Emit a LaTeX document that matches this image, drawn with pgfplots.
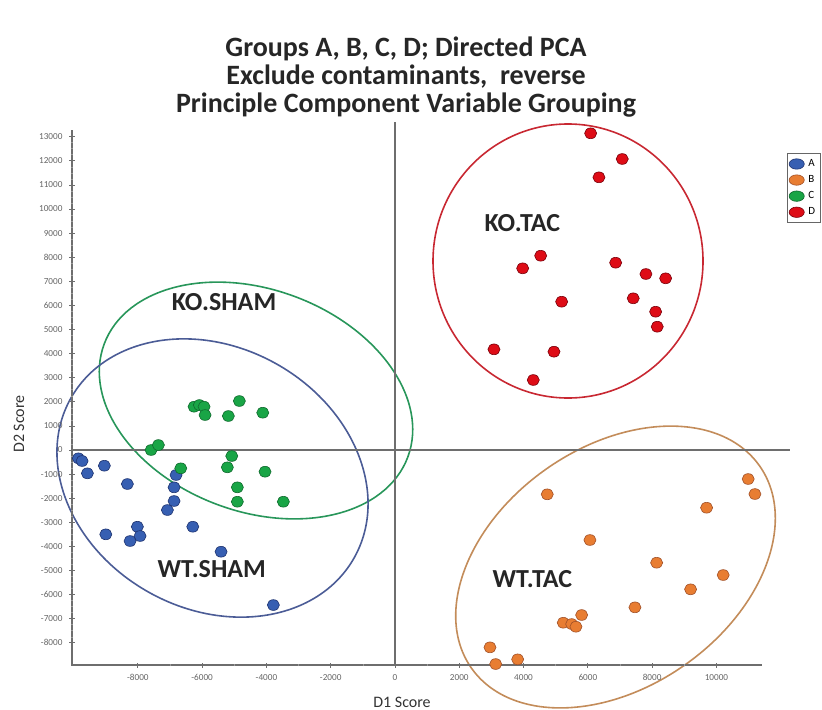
\documentclass[border=0pt]{standalone}
\usepackage{pgfplots}
\pgfplotsset{compat=1.18}
\usepackage{fontspec}
\setmainfont{Carlito}
\definecolor{blueM}{RGB}{55,95,178}
\definecolor{blueD}{RGB}{30,50,110}
\definecolor{orangeM}{RGB}{232,125,50}
\definecolor{orangeD}{RGB}{160,80,40}
\definecolor{greenM}{RGB}{25,165,70}
\definecolor{greenD}{RGB}{15,105,45}
\definecolor{redM}{RGB}{222,12,22}
\definecolor{redD}{RGB}{120,0,10}
\definecolor{redE}{RGB}{200,40,50}
\definecolor{greenE}{RGB}{40,150,90}
\definecolor{blueE}{RGB}{75,92,150}
\definecolor{orangeE}{RGB}{195,140,90}
\definecolor{axgray}{RGB}{110,110,110}
\begin{document}
\begin{tikzpicture}
% cluster ellipses (pt units, 0.5pt per reference pixel)
\draw[redE, line width=0.8pt] (248pt,202pt) ellipse [x radius=67.5pt, y radius=68.5pt];
\draw[greenE, line width=0.8pt, rotate around={-20.4:(92pt,132.25pt)}] (92pt,132.25pt) ellipse [x radius=81pt, y radius=55.5pt];
\draw[blueE, line width=0.8pt, rotate around={-29.4:(70.25pt,93.5pt)}] (70.25pt,93.5pt) ellipse [x radius=81.3pt, y radius=65.4pt];
\draw[orangeE, line width=0.8pt, rotate around={35:(271.75pt,49pt)}] (271.75pt,49pt) ellipse [x radius=88pt, y radius=60pt];
% axis lines
\draw[axgray, line width=0.6pt] (0pt,267.5pt) -- (0pt,0pt) -- (345pt,0pt);
\begin{axis}[
  width=359pt, height=271.5pt, scale only axis,
  xmin=-10050, xmax=12290, ymin=-8920, ymax=13610,
  axis x line*=bottom, axis y line*=left,
  axis line style={draw=none},
  clip=false,
  xtick={-8000,-6000,...,10000},
  ytick={-8000,-7000,...,13000},
  minor x tick num=1, minor y tick num=3,
  tick align=center,
  major tick length=2.5pt, minor tick length=1.2pt,
  tick style={axgray, line width=0.4pt},
  minor tick style={axgray!70, line width=0.3pt},
  tick label style={font=\fontsize{4.6}{5}\selectfont, text=black!60},
  scaled ticks=false,
  /pgf/number format/set thousands separator={},
  /pgf/number format/assume math mode=true,
  legend style={at={(0.996,0.943)}, anchor=north west, draw=black!60,
    font=\fontsize{5.5}{6}\selectfont, inner sep=0.8pt, row sep=-1.0pt,
    cells={anchor=west}},
  legend image post style={mark size=2.6pt, /tikz/every mark/.append style={xscale=1.3}},
]
\draw[axgray, line width=0.75pt] (axis cs:0,-8920) -- (axis cs:0,13610);
\draw[axgray, line width=0.75pt] (axis cs:-10050,0) -- (axis cs:12290,0);
\addplot[only marks, mark=*, mark size=2.7pt, mark options={fill=blueM, draw=blueD, line width=0.3pt, xscale=1.12}] coordinates {
(-9851,-344) (-9736,-456) (-9571,-967) (-9043,-651) (-8327,-1411)
(-6812,-1037) (-6874,-1548) (-6874,-2116) (-7082,-2490) (-6292,-3183)
(-8998,-3498) (-8016,-3183) (-7932,-3568) (-8243,-3776) (-5412,-4220)
(-3785,-6432)};
\addlegendentry{A}
\addplot[only marks, mark=*, mark size=2.7pt, mark options={fill=orangeM, draw=orangeD, line width=0.3pt, xscale=1.12}] coordinates {
(4737,-1838) (10989,-1203) (11198,-1826) (9695,-2394) (6065,-3734)
(8140,-4676) (10211,-5187) (9197,-5780) (7465,-6527) (5807,-6846)
(5235,-7166) (5496,-7220) (5630,-7332) (2955,-8187) (3132,-8880)
(3816,-8685)};
\addlegendentry{B}
\addplot[only marks, mark=*, mark size=2.7pt, mark options={fill=greenM, draw=greenD, line width=0.3pt, xscale=1.12}] coordinates {
(-6252,1797) (-6087,1867) (-5941,1797) (-5910,1452) (-5185,1411)
(-4843,2033) (-4115,1548) (-7589,0) (-7362,207) (-6666,-759)
(-5079,-249) (-5216,-718) (-4044,-900) (-4905,-1548) (-4905,-2145)
(-3474,-2145)};
\addlegendentry{C}
\addplot[only marks, mark=*, mark size=2.7pt, mark options={fill=redM, draw=redD, line width=0.3pt, xscale=1.12}] coordinates {
(6087,13141) (7070,12075) (6345,11315) (4532,8062) (3972,7539)
(6865,7772) (7807,7303) (8420,7124) (5185,6154) (7412,6295)
(8109,5739) (8159,5116) (3079,4178) (4946,4079) (4302,2905)};
\addlegendentry{D}
\end{axis}
% group labels
\node[font=\bfseries\fontsize{13}{14}\selectfont, text=black!85] at (76pt,181.65pt) {KO.SHAM};
\node[font=\bfseries\fontsize{13}{14}\selectfont, text=black!85] at (69.85pt,48pt) {WT.SHAM};
\node[font=\bfseries\fontsize{13}{14}\selectfont, text=black!85] at (225.15pt,220.85pt) {KO.TAC};
\node[font=\bfseries\fontsize{13}{14}\selectfont, text=black!85] at (230.15pt,43pt) {WT.TAC};
% title
\node[font=\bfseries\fontsize{14}{14}\selectfont, align=center, text=black!85] at (167pt,294pt)
  {Groups A, B, C, D; Directed PCA\\Exclude contaminants,\ \ reverse\\Principle Component Variable Grouping};
% axis labels
\node[font=\fontsize{8}{9}\selectfont, text=black!80] at (165pt,-18.5pt) {D1 Score};
\node[font=\fontsize{8}{9}\selectfont, text=black!80, rotate=90] at (-26.5pt,120.5pt) {D2 Score};
\pgfresetboundingbox
\useasboundingbox (-36pt,-22pt) rectangle (375pt,332.5pt);
\end{tikzpicture}
\end{document}
